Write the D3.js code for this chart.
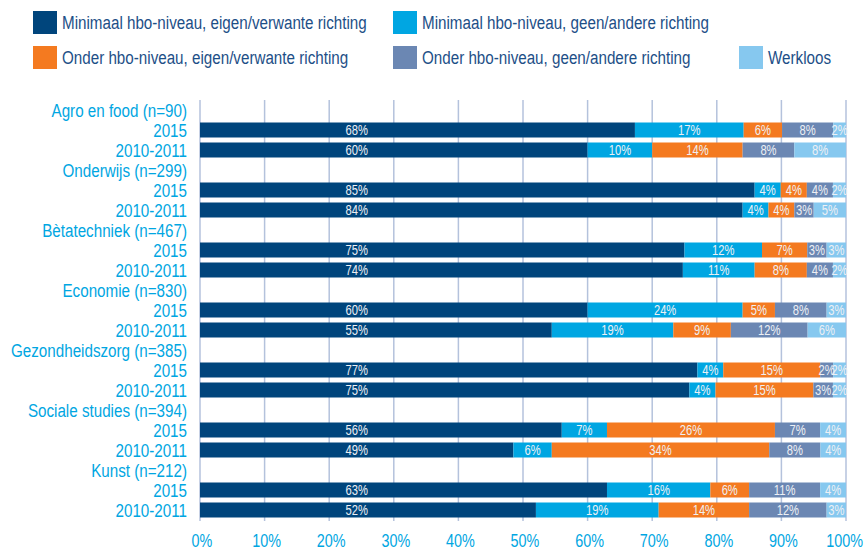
<!DOCTYPE html>
<html>
<head>
<meta charset="utf-8">
<script src="https://cdn.jsdelivr.net/npm/d3@7"></script>
<style>
body { margin:0; background:#fff; }
text { font-family: "Liberation Sans", Arial, sans-serif; }
</style>
</head>
<body>
<script>
var series = [
  "Minimaal hbo-niveau, eigen/verwante richting",
  "Minimaal hbo-niveau, geen/andere richting",
  "Onder hbo-niveau, eigen/verwante richting",
  "Onder hbo-niveau, geen/andere richting",
  "Werkloos"
];
var colors = ["#00457c", "#00a6e2", "#f47a20", "#6b87b3", "#86c8ef"];

var categories = [
  "Agro en food (n=90)",
  "Onderwijs (n=299)",
  "Bètatechniek (n=467)",
  "Economie (n=830)",
  "Gezondheidszorg (n=385)",
  "Sociale studies (n=394)",
  "Kunst (n=212)"
];
var years = ["2015", "2010-2011"];

var values2015 = [
  [68, 17, 6, 8, 2],
  [85, 4, 4, 4, 2],
  [75, 12, 7, 3, 3],
  [60, 24, 5, 8, 3],
  [77, 4, 15, 2, 2],
  [56, 7, 26, 7, 4],
  [63, 16, 6, 11, 4]
];
var values2010 = [
  [60, 10, 14, 8, 8],
  [84, 4, 4, 3, 5],
  [74, 11, 8, 4, 2],
  [55, 19, 9, 12, 6],
  [75, 4, 15, 3, 2],
  [49, 6, 34, 8, 4],
  [52, 19, 14, 12, 3]
];
var ticks = [0, 10, 20, 30, 40, 50, 60, 70, 80, 90, 100];

// narrow font look: squeeze the text horizontally
var squeeze = 0.8;
function place(px, py){
  return "translate(" + px + "," + py + ") scale(" + squeeze + ",1)";
}

// rows: category header, then 2015, then 2010-2011
var rows = [];
categories.forEach(function(c, i){
  rows.push({ id:"h"+i, label:c, values:null });
  rows.push({ id:"a"+i, label:years[0], values:values2015[i] });
  rows.push({ id:"b"+i, label:years[1], values:values2010[i] });
});

var svg = d3.select("body").append("svg")
  .attr("width", 864).attr("height", 552);

var x = d3.scaleLinear().domain([0, 100]).range([200, 846]);
var y = d3.scaleBand().domain(rows.map(function(d){ return d.id; }))
  .range([100, 520]).paddingInner(0.25).paddingOuter(0.125);

// gridlines
svg.append("g").selectAll("line").data(ticks).enter().append("line")
  .attr("x1", function(d){ return x(d); }).attr("x2", function(d){ return x(d); })
  .attr("y1", 100).attr("y2", 521)
  .attr("stroke", "#b4c2dc").attr("stroke-width", 1.5);

// bars
var barRows = rows.filter(function(d){ return d.values; });
var minDark = d3.min(barRows, function(d){ return d.values[0] / d3.sum(d.values) * 100; });

var rowG = svg.append("g").selectAll("g").data(barRows).enter().append("g")
  .attr("transform", function(d){ return "translate(0," + y(d.id) + ")"; });

rowG.each(function(r){
  var total = d3.sum(r.values);
  var acc = 0;
  var segs = r.values.map(function(v, k){
    var s = { k:k, v:v, x0:acc / total * 100, x1:(acc + v) / total * 100 };
    acc += v;
    return s;
  });
  var g = d3.select(this);
  g.selectAll("rect").data(segs).enter().append("rect")
    .attr("x", function(s){ return x(s.x0); })
    .attr("width", function(s){ return x(s.x1) - x(s.x0); })
    .attr("y", 0).attr("height", y.bandwidth())
    .attr("fill", function(s){ return colors[s.k]; });
  g.selectAll("text").data(segs).enter().append("text")
    .attr("transform", function(s){
      var cx = s.k === 0 ? x(minDark / 2) : x((s.x0 + s.x1) / 2);
      return place(cx, y.bandwidth() / 2);
    })
    .attr("dy", "0.36em")
    .attr("text-anchor", "middle")
    .attr("fill", "#eef0f4")
    .style("font-size", "14px")
    .text(function(s){ return s.v + "%"; });
});

// row labels
svg.append("g").selectAll("text").data(rows).enter().append("text")
  .attr("transform", function(d){ return place(187, y(d.id) + y.bandwidth() / 2); })
  .attr("dy", "0.36em")
  .attr("text-anchor", "end")
  .attr("fill", "#00a6e2")
  .style("font-size", "19px")
  .text(function(d){ return d.label; });

// x axis labels (keep the last one inside the page)
svg.append("g").selectAll("text").data(ticks).enter().append("text")
  .attr("text-anchor", "middle")
  .attr("fill", "#00a6e2")
  .style("font-size", "18px")
  .text(function(d){ return d + "%"; })
  .attr("transform", function(d){
    var half = this.getComputedTextLength() * squeeze / 2;
    var cx = Math.min(x(d) + 2, 863 - half);
    return place(cx, 547);
  });

// legend
var legendPos = [
  { x:33, y:11 }, { x:393, y:11 },
  { x:33, y:46 }, { x:393, y:46 },
  { x:739, y:46 }
];
var leg = svg.append("g").selectAll("g").data(series).enter().append("g")
  .attr("transform", function(d, i){ return "translate(" + legendPos[i].x + "," + legendPos[i].y + ")"; });
leg.append("rect").attr("width", 24).attr("height", 23)
  .attr("fill", function(d, i){ return colors[i]; });
leg.append("text")
  .attr("transform", place(29, 11.5))
  .attr("dy", "0.36em")
  .attr("fill", "#1d4f87")
  .style("font-size", "19px")
  .text(function(d){ return d; });
</script>
</body>
</html>
